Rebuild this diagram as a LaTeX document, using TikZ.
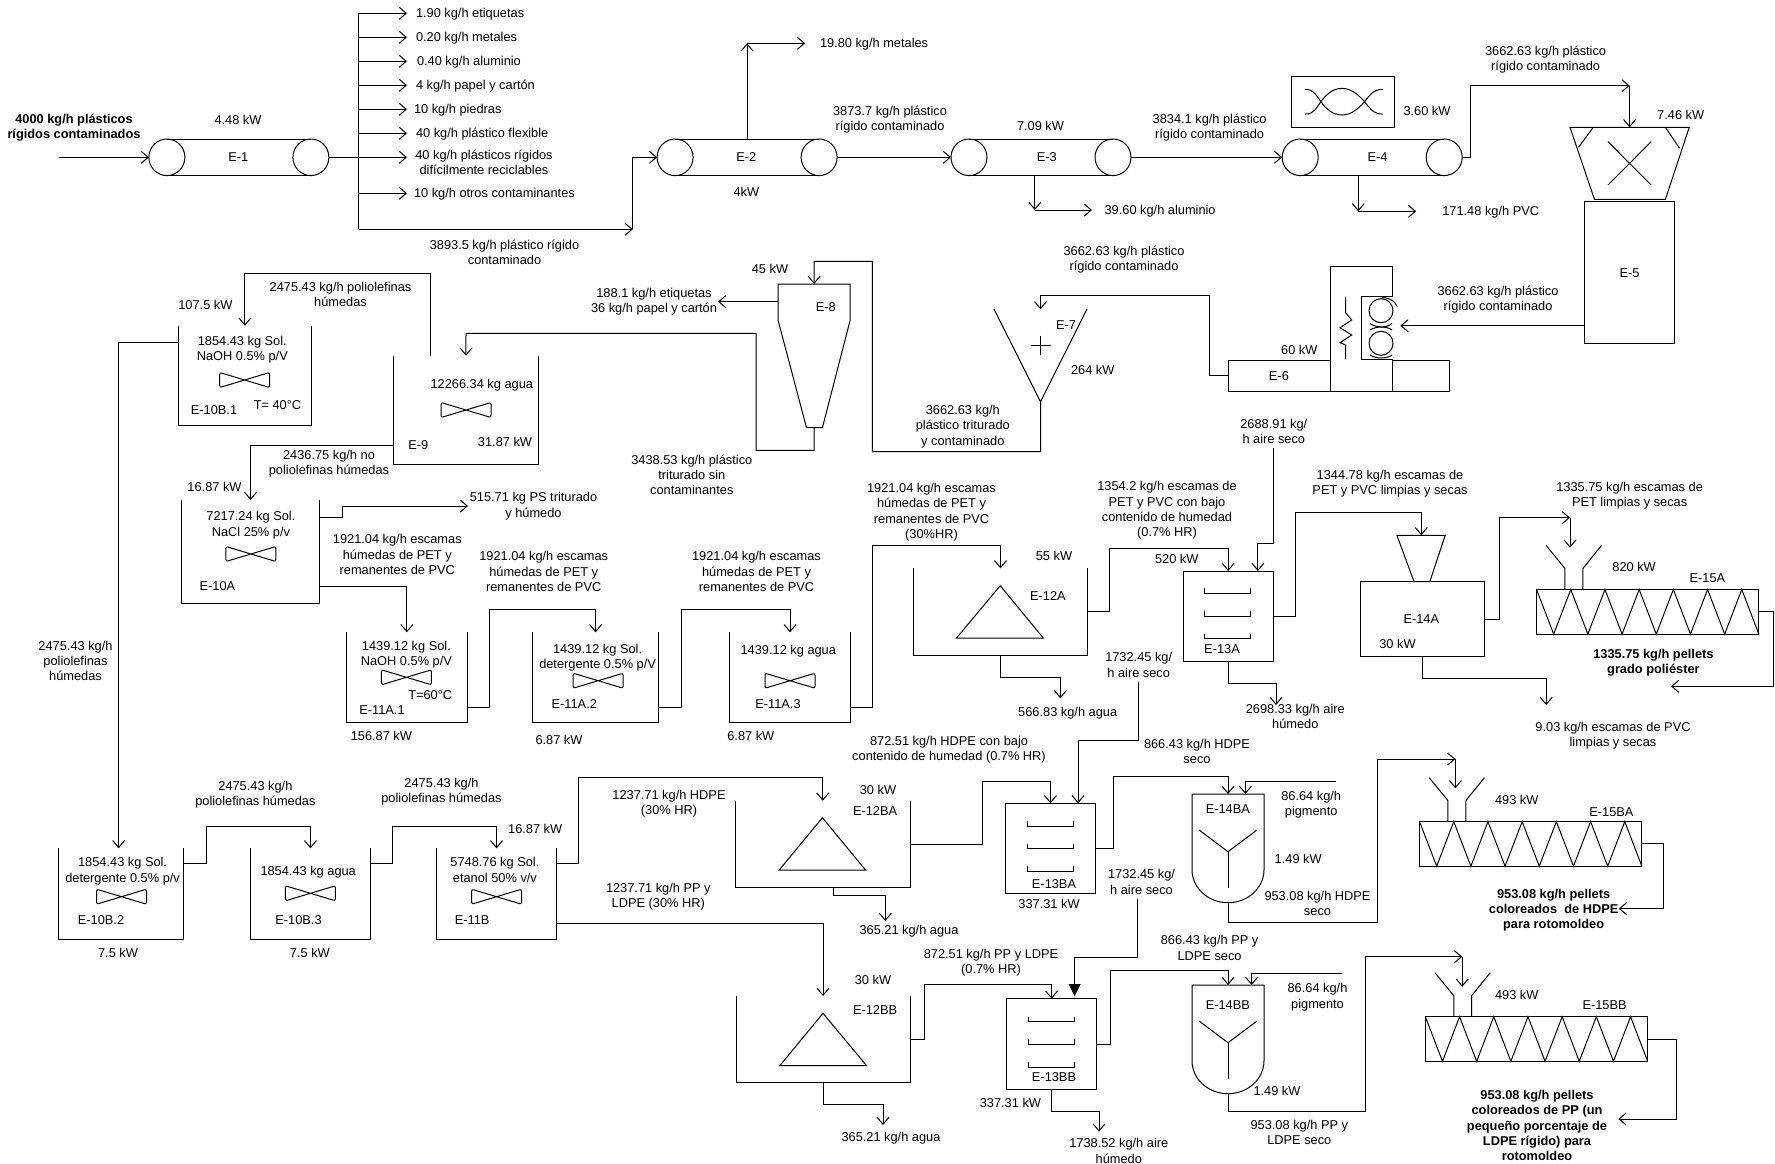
\documentclass[tikz,border=0pt]{standalone}
\usepackage{fontspec}
\setmainfont{Liberation Sans}
\usetikzlibrary{arrows.meta,fit}
\tikzset{
  flow/.style={->},
  lbl/.style={align=center,inner sep=0pt,outer sep=0pt,yshift=-1.2pt,font=\fontsize{12.8}{15.3}\selectfont,
    execute at begin node=\strut,execute at end node=\strut},
  boldlbl/.style={lbl,font=\fontsize{12.8}{15.3}\selectfont\bfseries},
  unit/.style={inner sep=0pt,outer sep=0pt},
  boxed/.style={unit,draw},
  conveyor/.style={unit,minimum width=180,minimum height=37},
  extruder/.style={boxed,minimum width=222.3,minimum height=44.6},
  belt/.pic={
    \draw (-72,0) circle[x radius=18,y radius=18.3];
    \draw (72,0) circle[x radius=18,y radius=18.3];
    \draw (-72,-18.3) -- (72,-18.3);
    \draw (-72,18.3) -- (72,18.3);
  },
  agitator/.pic={
    \draw[rounded corners=2pt] (-25,-7.5) -- (25,7.5) -- (25,-7.5) -- (-25,7.5) -- cycle;
  },
  trays/.pic={
    \draw (-23,-5) -- (-23,0) -- (23,0) -- (23,-5);
    \draw (-23,17.7) -- (-23,22.7) -- (23,22.7) -- (23,17.7);
    \draw (-23,40.4) -- (-23,45.4) -- (23,45.4) -- (23,40.4);
  },
  screw/.pic={
    \draw (0,0) -- ++(17.1,44.6) -- ++(17.1,-44.6) -- ++(17.1,44.6) -- ++(17.1,-44.6)
      -- ++(17.1,44.6) -- ++(17.1,-44.6) -- ++(17.1,44.6) -- ++(17.1,-44.6)
      -- ++(17.1,44.6) -- ++(17.1,-44.6) -- ++(17.1,44.6) -- ++(17.1,-44.6) -- ++(17.1,44.6);
    \draw (9.6,-44) -- (28.4,-21) -- (28.4,0);
    \draw (64.9,-44) -- (46.3,-21) -- (46.3,0);
  },
  mixer/.pic={
    \draw (-36,0) -- (36,0) -- (36,75.7) arc[start angle=0,end angle=180,x radius=36,y radius=33] -- cycle;
    \draw (-29,36) -- (0,57.7) -- (29,36);
    \draw (0,57.7) -- (0,94.3);
  },
}
\newcommand{\tankwall}[1]{\draw (#1.north west) |- (#1.south east) -- (#1.north east);}
\begin{document}
\begin{tikzpicture}[x=1pt,y=-1pt,line width=1pt,>={Straight Barb[length=7pt,width=12pt]}]
  \useasboundingbox (0,0) rectangle (1775,1164);

  \node[conveyor] (e1) at (238.9,157.3) {};
  \node[conveyor] (e2) at (747.1,157.3) {};
  \node[conveyor] (e3) at (1041,157.3) {};
  \node[conveyor] (e4) at (1372.2,157.3) {};
  \pic at (e1) {belt};
  \pic at (e2) {belt};
  \pic at (e3) {belt};
  \pic at (e4) {belt};
  \node[lbl] (e1tag) at (238.4,157.3) {E-1};
  \node[lbl] (e2tag) at (746.3,157.3) {E-2};
  \node[lbl] (e3tag) at (1046.7,157.3) {E-3};
  \node[lbl] (e4tag) at (1377.6,157.3) {E-4};
  \node[lbl] (e1kw) at (238,120.7) {4.48 kW};
  \node[lbl] (e2kw) at (746.3,192.7) {4kW};
  \node[lbl] (e3kw) at (1040.5,126.7) {7.09 kW};
  \node[lbl] (e4kw) at (1427,111.7) {3.60 kW};

  \node[boldlbl] (feedtxt) at (74,127.5) {4000 kg/h plásticos\\rígidos contaminados};
  \coordinate (feed) at (58.5,157.3);
  \coordinate (split) at (358.7,157.3);
  \coordinate (splittop) at (358.7,13.3);
  \coordinate (splitbot) at (358.7,229.3);
  \node[lbl,anchor=west] (s1) at (416,13.3) {1.90 kg/h etiquetas};
  \node[lbl,anchor=west] (s2) at (416,37.3) {0.20 kg/h metales};
  \node[lbl,anchor=west] (s3) at (417,61.3) {0.40 kg/h aluminio};
  \node[lbl,anchor=west] (s4) at (416,85.3) {4 kg/h papel y cartón};
  \node[lbl,anchor=west] (s5) at (414,109.3) {10 kg/h piedras};
  \node[lbl,anchor=west] (s6) at (416,133.3) {40 kg/h plástico flexible};
  \node[lbl] (s7) at (484,163.5) {40 kg/h plásticos rígidos\\difícilmente reciclables};
  \node[lbl,anchor=west] (s8) at (414,193.3) {10 kg/h otros contaminantes};
  \node[lbl] (s9) at (504.5,253.5) {3893.5 kg/h plástico rígido\\contaminado};

  \draw[flow] (feed) -- (e1.west);
  \draw (e1.east) -- (split);
  \draw (splittop) -- (splitbot);
  \draw[flow] (splittop) -- ++(48.3,0);
  \draw[flow] (358.7,37.3) -- ++(48.3,0);
  \draw[flow] (358.7,61.3) -- ++(48.3,0);
  \draw[flow] (358.7,85.3) -- ++(48.3,0);
  \draw[flow] (358.7,109.3) -- ++(48.3,0);
  \draw[flow] (358.7,133.3) -- ++(48.3,0);
  \draw[flow] (split) -- ++(48.3,0);
  \draw[flow] (358.7,193.3) -- ++(48.3,0);

  \coordinate (c2) at (632.8,229.3);
  \draw[flow] (splitbot) -- (c2);
  \draw[flow] (c2) |- (e2.west);
  \coordinate (c2up) at (747.1,43.3);
  \draw[flow] (e2.north) -- (c2up);
  \draw[flow] (c2up) -- ++(58,0);
  \node[lbl,anchor=west] (s10) at (820,43.3) {19.80 kg/h metales};
  \draw[flow] (e2.east) -- (e3.west);
  \node[lbl] (s11) at (890,119.5) {3873.7 kg/h plástico\\rígido contaminado};
  \draw[flow] (e3.east) -- (e4.west);
  \node[lbl] (s12) at (1209.6,127.5) {3834.1 kg/h plástico\\rígido contaminado};

  \coordinate (c3) at (1034.8,210);
  \draw[flow] (e3.south -| c3) -- (c3);
  \draw[flow] (c3) -- ++(57.2,0);
  \node[lbl,anchor=west] (s13) at (1104.6,210) {39.60 kg/h aluminio};
  \coordinate (c4) at (1358.3,211.3);
  \draw[flow] (e4.south -| c4) -- (c4);
  \draw[flow] (c4) -- ++(57.9,0);
  \node[lbl,anchor=west] (s14) at (1442.3,211.3) {171.48 kg/h PVC};

  \node[boxed,fit={(1291.9,76.3) (1394.6,127.3)}] (drive) {};
  \draw (1305,89.3) .. controls (1315,89.3) and (1317,97) .. (1320.9,101.7)
    .. controls (1326,109) and (1333,115) .. (1342,115)
    .. controls (1351,115) and (1358,109) .. (1364.6,101.7)
    .. controls (1369,96) and (1373,89.3) .. (1382.7,89.3);
  \draw (1305,114.1) .. controls (1315,114.1) and (1317,106.4) .. (1320.9,101.7)
    .. controls (1326,94.4) and (1333,88.4) .. (1342,88.4)
    .. controls (1351,88.4) and (1358,94.4) .. (1364.6,101.7)
    .. controls (1369,107.4) and (1373,114.1) .. (1382.7,114.1);

  \coordinate (crusher) at (1629.6,127.3);
  \draw (1570,127.3) -- (1689.2,127.3) -- (1665.4,199.3) -- (1594.4,199.3) -- cycle;
  \draw (1593.3,127.3) -- (1578.5,147.3);
  \draw (1665.4,127.3) -- (1679.5,148.3);
  \draw (1608,141.7) -- (1651.2,185);
  \draw (1651.2,141.7) -- (1608,185);
  \node[lbl] (crusherkw) at (1680.7,115) {7.46 kW};
  \coordinate (c5) at (1629.6,85.7);
  \draw[flow] (e4.east) -| (1470.7,85.7) -- (c5);
  \draw[flow] (c5) -- (crusher);
  \node[lbl] (s15) at (1545.6,59.5) {3662.63 kg/h plástico\\rígido contaminado};

  \node[boxed,fit={(1584.8,201.7) (1674.4,343.3)}] (e5) {};
  \node[lbl] (e5tag) at (1629.6,273.3) {E-5};
  \coordinate (e6in) at (1400.3,325.7);
  \draw[flow] (e5.west |- e6in) -- (e6in);
  \node[lbl] (s16) at (1498,299.5) {3662.63 kg/h plástico\\rígido contaminado};

  \node[boxed,fit={(1228.4,360.7) (1449.7,391)}] (e6) {};
  \draw[fill=white] (1330,391) -- (1330,266) -- (1392.3,266) -- (1392.3,296.7) -- (1361.3,296.7)
    -- (1361.3,359) -- (1392.3,359) -- (1392.3,391) -- cycle;
  \draw (1345.7,297.3) -- (1345.7,312.7) -- (1351.7,320) -- (1340,327.7) -- (1351.7,335)
    -- (1340,342.7) -- (1345.7,345) -- (1345.7,359);
  \draw (1381,310.7) circle[radius=12];
  \draw (1381,343.3) circle[radius=12];
  \draw (1382,297.5) .. controls (1390,298) and (1395,301) .. (1397.3,306.7);
  \draw (1370,323.5) .. controls (1376,328) and (1387,328) .. (1392,323.5);
  \draw (1370,330) .. controls (1376,326) and (1387,326) .. (1392,330);
  \draw (1370,355) .. controls (1376,359) and (1387,359) .. (1392,355);
  \node[lbl] (e6tag) at (1278.9,376) {E-6};
  \node[lbl] (e6kw) at (1299.3,350) {60 kW};

  \coordinate (e7top) at (1040.5,309.3);
  \coordinate (e7bot) at (1040.5,401.7);
  \draw (994,309) -- (e7bot) -- (1087,309);
  \draw (1030.5,345) -- (1050.5,345);
  \draw (1040.5,335.5) -- (1040.5,354.5);
  \node[lbl] (e7tag) at (1066,325.7) {E-7};
  \node[lbl] (e7kw) at (1092.7,370.7) {264 kW};
  \draw[flow] (e6.west) -| (1209.6,295) -| (e7top);
  \node[lbl] (s17) at (1124,259.5) {3662.63 kg/h plástico\\rígido contaminado};

  \node[unit,fit={(778,284) (850.2,427.7)}] (e8) {};
  \draw (e8.north west) -- (e8.north east) -- (850.2,320) -- (822.4,427.7) -- (806.5,427.7) -- (778,320) -- cycle;
  \node[lbl] (e8tag) at (825.8,307.7) {E-8};
  \node[lbl] (e8kw) at (770,269) {45 kW};
  \draw[flow] (e7bot) |- (872.3,451.7) |- (814.1,261.3) -- (e8.north);
  \node[lbl] (s18) at (962.8,426.3) {3662.63 kg/h\\plástico triturado\\y contaminado};
  \coordinate (e8out) at (718,301.7);
  \draw[flow] (e8.west |- e8out) -- (e8out);
  \node[lbl] (s19) at (654,301.5) {188.1 kg/h etiquetas\\36 kg/h papel y cartón};

  \node[unit,fit={(393.9,355.7) (538,464)}] (e9) {};
  \tankwall{e9}
  \pic at (466,410) {agitator};
  \node[lbl] (e9txt) at (481.8,384) {12266.34 kg agua};
  \node[lbl] (e9tag) at (418.3,445.7) {E-9};
  \node[lbl] (e9kw) at (505,442.7) {31.87 kW};
  \draw[flow] (e8.south) |- (756,450.3) |- (466,333.3) -- (e9.north);
  \node[lbl] (s20) at (691.8,476) {3438.53 kg/h plástico\\triturado sin\\contaminantes};

  \node[unit,fit={(178.8,325.7) (311,425)}] (e10b1) {};
  \tankwall{e10b1}
  \pic at (244.6,380) {agitator};
  \node[lbl] (e10b1txt) at (242.3,349.5) {1854.43 kg Sol.\\NaOH 0.5\% p/V};
  \node[lbl] (e10b1tag) at (214,410) {E-10B.1};
  \node[lbl] (e10b1t) at (277.5,405) {T= 40°C};
  \node[lbl] (e10b1kw) at (205.4,305) {107.5 kW};
  \draw[flow] (e9.north -| 430.2,0) |- (244.9,273.3) -- (e10b1.north);
  \node[lbl] (s21) at (340.5,295.5) {2475.43 kg/h poliolefinas\\húmedas};

  \node[unit,fit={(181.6,500) (319.5,603.3)}] (e10a) {};
  \tankwall{e10a}
  \pic at (250.9,554) {agitator};
  \node[lbl] (e10atxt) at (250.9,525) {7217.24 kg Sol.\\NaCl 25\% p/v};
  \node[lbl] (e10atag) at (217.4,586) {E-10A};
  \node[lbl] (e10akw) at (214.5,487.7) {16.87 kW};
  \draw[flow] (e9.west |- 0,445.7) -| (e10a.north);
  \node[lbl] (s22) at (329,463.5) {2436.75 kg/h no\\poliolefinas húmedas};
  \draw[flow] (e10a.east |- 0,517.3) -| (342.2,506) -- (468,506);
  \node[lbl] (s23) at (533.5,506) {515.71 kg PS triturado\\y húmedo};

  \node[unit,fit={(346.8,632.3) (467,722.3)}] (e11a1) {};
  \tankwall{e11a1}
  \pic at (406.4,677.3) {agitator};
  \node[lbl] (e11a1txt) at (406.4,654.5) {1439.12 kg Sol.\\NaOH 0.5\% p/V};
  \node[lbl] (e11a1t) at (430.2,695) {T=60°C};
  \node[lbl] (e11a1tag) at (382,710) {E-11A.1};
  \node[lbl] (e11a1kw) at (381.4,736.7) {156.87 kW};
  \draw[flow] (e10a.east |- 0,586.7) -| (e11a1.north);
  \node[lbl] (s24) at (397.3,555.5) {1921.04 kg/h escamas\\húmedas de PET y\\remanentes de PVC};

  \node[unit,fit={(532.3,632.3) (658.9,722.3)}] (e11a2) {};
  \tankwall{e11a2}
  \pic at (598.2,680.7) {agitator};
  \node[lbl] (e11a2txt) at (597.6,657.5) {1439.12 kg Sol.\\detergente 0.5\% p/V};
  \node[lbl] (e11a2tag) at (574.3,704) {E-11A.2};
  \node[lbl] (e11a2kw) at (559,740) {6.87 kW};
  \draw[flow] (e11a1.east |- 0,707.3) -| (489.2,609.3) -| (e11a2.north);
  \node[lbl] (s25) at (543.7,572.5) {1921.04 kg/h escamas\\húmedas de PET y\\remanentes de PVC};

  \node[unit,fit={(729.9,632.3) (850.2,722.3)}] (e11a3) {};
  \tankwall{e11a3}
  \pic at (790,680.7) {agitator};
  \node[lbl] (e11a3txt) at (788.3,650) {1439.12 kg agua};
  \node[lbl] (e11a3tag) at (778,704) {E-11A.3};
  \node[lbl] (e11a3kw) at (750.8,736.7) {6.87 kW};
  \draw[flow] (e11a2.east |- 0,707.3) -| (681,609.3) -| (e11a3.north);
  \node[lbl] (s26) at (756.5,572.5) {1921.04 kg/h escamas\\húmedas de PET y\\remanentes de PVC};

  \node[unit,fit={(913.4,568.3) (1087.6,655.7)}] (e12a) {};
  \tankwall{e12a}
  \draw (1000.2,585.7) -- (1043.3,638) -- (956.5,638) -- cycle;
  \node[lbl] (e12atag) at (1047.9,596) {E-12A};
  \node[lbl] (e12akw) at (1054,556.7) {55 kW};
  \draw[flow] (e11a3.east |- 0,707.3) -| (872.3,545.7) -| (e12a.north);
  \node[lbl] (s27) at (931.5,512) {1921.04 kg/h escamas\\húmedas de PET y\\remanentes de PVC\\(30\%HR)};
  \draw[flow] (e12a.south) |- (1060.4,677.7) -- (1060.4,698.3);
  \node[lbl] (s28) at (1067.7,712) {566.83 kg/h agua};

  \node[boxed,fit={(1183,571) (1273.2,661)}] (e13a) {};
  \pic at (1227.8,593.3) {trays};
  \node[lbl] (e13atag) at (1222,649.3) {E-13A};
  \node[lbl] (e13akw) at (1176.7,559.7) {520 kW};
  \draw[flow] (e12a.east |- 0,611.7) -| (1109.7,548.7) -| (e13a.north);
  \node[lbl] (s29) at (1167,510.3) {1354.2 kg/h escamas de\\PET y PVC con bajo\\contenido de humedad\\(0.7\% HR)};
  \node[lbl] (air1) at (1273.8,432.5) {2688.91 kg/\\h aire seco};
  \draw[flow] (air1.south) |- (1257.9,543.3) -- (e13a.north -| 1257.9,0);
  \draw[flow] (e13a.south) |- (1276,683.7) -- (1276,705);
  \node[lbl] (s30) at (1295.3,717.5) {2698.33 kg/h aire\\húmedo};

  \coordinate (e14atop) at (1421.3,535.3);
  \draw (1396.9,535.3) -- (1445.2,535.3) -- (1429.8,581.7) -- (1414,581.7) -- cycle;
  \node[boxed,fit={(1360,581.7) (1484.3,656.3)}] (e14a) {};
  \node[lbl] (e14atag) at (1421.3,619) {E-14A};
  \node[lbl] (e14akw) at (1397.5,644) {30 kW};
  \draw[flow] (e13a.east |- 0,616) -| (1295.3,512.7) -| (e14atop);
  \node[lbl] (s31) at (1390,483.5) {1344.78 kg/h escamas de\\PET y PVC limpias y secas};
  \draw[flow] (e14a.south) |- (1546.2,678.3) -- (1546.2,705);
  \node[lbl] (s32) at (1613,735.2) {9.03 kg/h escamas de PVC\\limpias y secas};

  \node[extruder] (e15a) at (1647.7,611.8) {};
  \pic at (e15a.north west) {screw};
  \node[lbl] (e15atag) at (1707.4,578) {E-15A};
  \node[lbl] (e15akw) at (1634.1,567.3) {820 kW};
  \coordinate (c15a) at (1570,517.7);
  \draw[flow] (e14a.east) -| (1499,517.7) -- (c15a);
  \draw[flow] (c15a) -- (1570,547.7);
  \node[lbl] (s33) at (1629.6,495.5) {1335.75 kg/h escamas de\\PET limpias y secas};
  \draw[flow] (e15a.east) -| (1773.8,686.3) -- (1671,686.3);
  \node[boldlbl] (s34) at (1653.4,662.5) {1335.75 kg/h pellets\\grado poliéster};

  \node[unit,fit={(58.5,848.3) (183.9,939)}] (e10b2) {};
  \tankwall{e10b2}
  \pic at (121.5,896.7) {agitator};
  \node[lbl] (e10b2txt) at (122.6,871) {1854.43 kg Sol.\\detergente 0.5\% p/v};
  \node[lbl] (e10b2tag) at (101,920.7) {E-10B.2};
  \node[lbl] (e10b2kw) at (118,953) {7.5 kW};
  \draw[flow] (e10b1.west |- 0,342.3) -| (e10b2.north -| 118.6,0);
  \node[lbl] (s35) at (75.5,662) {2475.43 kg/h\\poliolefinas\\húmedas};

  \node[unit,fit={(250.3,848.3) (370.6,939)}] (e10b3) {};
  \tankwall{e10b3}
  \pic at (310.4,893.3) {agitator};
  \node[lbl] (e10b3txt) at (308.2,871) {1854.43 kg agua};
  \node[lbl] (e10b3tag) at (298.5,920.7) {E-10B.3};
  \node[lbl] (e10b3kw) at (309.9,953) {7.5 kW};
  \draw[flow] (e10b2.east |- 0,863.7) -| (206.6,826) -| (e10b3.north);
  \node[lbl] (s36) at (255.4,794.5) {2475.43 kg/h\\poliolefinas húmedas};

  \node[unit,fit={(436.4,848.3) (556.7,939)}] (e11b) {};
  \tankwall{e11b}
  \pic at (496.6,896.7) {agitator};
  \node[lbl] (e11btxt) at (494.9,871) {5748.76 kg Sol.\\etanol 50\% v/v};
  \node[lbl] (e11btag) at (472.2,920.7) {E-11B};
  \node[lbl] (e11bkw) at (535.2,829) {16.87 kW};
  \draw[flow] (e10b3.east |- 0,863.7) -| (392.7,826) -| (e11b.north);
  \node[lbl] (s37) at (441.5,791.5) {2475.43 kg/h\\poliolefinas húmedas};

  \node[unit,fit={(735.5,800.7) (910,887.3)}] (e12ba) {};
  \tankwall{e12ba}
  \draw (822.4,817.7) -- (865.5,870) -- (779.2,870) -- cycle;
  \node[lbl,anchor=west] (e12batag) at (853,811.7) {E-12BA};
  \node[lbl] (e12bakw) at (878,790.7) {30 kW};
  \draw[flow] (e11b.east |- 0,863.7) -| (578.9,777.7) -| (e12ba.north);
  \node[lbl] (s38) at (669,803.5) {1237.71 kg/h HDPE\\(30\% HR)};
  \draw[flow] (e12ba.south -| 833.7,0) |- (885.3,895.3) -- (885.3,921);
  \node[lbl] (s39) at (909,930.7) {365.21 kg/h agua};

  \node[unit,fit={(736,996) (910,1082.7)}] (e12bb) {};
  \tankwall{e12bb}
  \draw (823,1013.3) -- (866.6,1065.7) -- (779.8,1065.7) -- cycle;
  \node[lbl,anchor=west] (e12bbtag) at (853,1010.7) {E-12BB};
  \node[lbl] (e12bbkw) at (873,980.7) {30 kW};
  \draw[flow] (e11b.east |- 0,923.3) -| (e12bb.north);
  \node[lbl] (s40) at (658.3,896.3) {1237.71 kg/h PP y\\LDPE (30\% HR)};
  \draw[flow] (e12bb.south) |- (883,1104.3) -- (883,1125);
  \node[lbl] (s41) at (891,1137.7) {365.21 kg/h agua};

  \node[boxed,fit={(1005.3,803.3) (1095.6,893.7)}] (e13ba) {};
  \pic at (1050.4,826) {trays};
  \node[lbl] (e13batag) at (1054,884) {E-13BA};
  \node[lbl] (e13bakw) at (1049,904.3) {337.31 kW};
  \draw[flow] (e12ba.east |- 0,844) -| (982.6,781.3) -| (e13ba.north);
  \node[lbl] (s42) at (949,749.2) {872.51 kg/h HDPE con bajo\\contenido de humedad (0.7\% HR)};
  \node[lbl] (air2) at (1138.7,666) {1732.45 kg/\\h aire seco};
  \draw[flow] (air2.south) |- (1078,740) -- (e13ba.north -| 1078,0);

  \node[unit,fit={(1192,794) (1264,902.7)}] (e14ba) {};
  \pic at (e14ba.north) {mixer};
  \node[lbl] (e14batag) at (1227.8,809) {E-14BA};
  \node[lbl] (e14bakw) at (1298.2,859) {1.49 kW};
  \draw[flow] (e13ba.east |- 0,848.3) -| (1113.7,776) -| (e14ba.north);
  \node[lbl] (s43) at (1197,752.5) {866.43 kg/h HDPE\\seco};
  \coordinate (pig1) at (1336.2,781);
  \draw[flow] (pig1) -| (e14ba.north -| 1245.4,0);
  \node[lbl] (s44) at (1311.2,804.5) {86.64 kg/h\\pigmento};

  \node[extruder] (e15ba) at (1530.7,843.9) {};
  \pic at (e15ba.north west) {screw};
  \node[lbl] (e15batag) at (1611.4,812) {E-15BA};
  \node[lbl] (e15bakw) at (1516.7,800) {493 kW};
  \coordinate (c15ba) at (1455.4,759);
  \draw[flow] (e14ba.south) |- (1377.6,922.3) |- (c15ba);
  \draw[flow] (c15ba) -- (1455.4,788.3);
  \node[lbl] (s45) at (1317.5,904.5) {953.08 kg/h HDPE\\seco};
  \draw[flow] (e15ba.east) -| (1663.7,908.7) -- (1618.8,908.7);
  \node[boldlbl] (s46) at (1553.6,910) {953.08 kg/h pellets\\coloreados~~de HDPE\\para rotomoldeo};

  \node[boxed,fit={(1006.5,998.7) (1096.7,1089)}] (e13bb) {};
  \pic at (1051.3,1021.7) {trays};
  \node[lbl] (e13bbtag) at (1054,1077) {E-13BB};
  \node[lbl] (e13bbkw) at (1010.4,1103.7) {337.31 kW};
  \draw[flow] (e12bb.east |- 0,1039.3) -| (924.7,984.3) -| (e13bb.north);
  \node[lbl] (s47) at (991,962.5) {872.51 kg/h PP y LDPE\\(0.7\% HR)};
  \node[lbl] (air3) at (1141.5,883) {1732.45 kg/\\h aire seco};
  \draw[-{Triangle[length=12pt,width=12pt]}] (air3.south -| 1137.6,0) |- (1074.6,957.7) -- (1074.6,996);
  \draw[flow] (e13bb.south) |- (1099,1111) -- (1099,1131.7);
  \node[lbl] (s48) at (1118.8,1152) {1738.52 kg/h aire\\húmedo};

  \node[unit,fit={(1192,985) (1264,1093.3)}] (e14bb) {};
  \pic at (e14bb.north) {mixer};
  \node[lbl] (e14bbtag) at (1227.8,1005) {E-14BB};
  \node[lbl] (e14bbkw) at (1277,1091.7) {1.49 kW};
  \draw[flow] (e13bb.east |- 0,1044) -| (1110.3,970.7) -| (e14bb.north);
  \node[lbl] (s49) at (1209.6,949) {866.43 kg/h PP y\\LDPE seco};
  \coordinate (pig2) at (1341.9,973.3);
  \draw[flow] (pig2) -| (e14bb.north -| 1251.6,0);
  \node[lbl] (s50) at (1317.5,997) {86.64 kg/h\\pigmento};

  \node[extruder] (e15bb) at (1536.5,1039) {};
  \pic at (e15bb.north west) {screw};
  \node[lbl] (e15bbtag) at (1604.6,1005) {E-15BB};
  \node[lbl] (e15bbkw) at (1516.7,995.7) {493 kW};
  \coordinate (c15bb) at (1462.2,956.7);
  \draw[flow] (e14bb.south) |- (1365.7,1111.7) |- (c15bb);
  \draw[flow] (c15bb) -- (1462.2,986.7);
  \node[lbl] (s51) at (1299.3,1133.5) {953.08 kg/h PP y\\LDPE seco};
  \draw[flow] (e15bb.east) -| (1676.1,1119) -- (1618.3,1119);
  \node[boldlbl] (s52) at (1537,1126.5) {953.08 kg/h pellets\\coloreados de PP (un\\pequeño porcentaje de\\LDPE rígido) para\\rotomoldeo};
\end{tikzpicture}
\end{document}
